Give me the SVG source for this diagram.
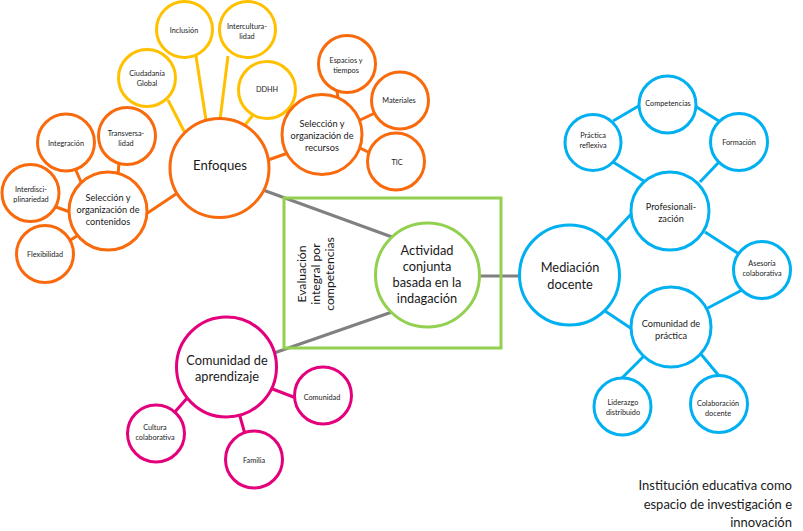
<svg xmlns="http://www.w3.org/2000/svg" width="803" height="531" viewBox="0 0 803 531">
<style>
.c{fill:#fff;stroke-width:3}
.y{stroke:#FFC000}.o{stroke:#F96A0C}.p{stroke:#E4007C}.b{stroke:#00B0F0}.g{stroke:#92D050}
.l{stroke-width:3;fill:none}
.gr{stroke:#808080}
text{font-family:Lato,"Liberation Sans",sans-serif;fill:#1a1a1a;text-anchor:middle}
.s{font-size:7.3px}
.m{font-size:9.2px}
.L{font-size:12.8px}
.v{font-size:12.2px}
.t{font-size:13px;text-anchor:end}
</style>
<rect width="803" height="531" fill="#fff"/>
<g id="connectors">
<g class="l y">
<line x1="168" y1="100" x2="185" y2="133"/>
<line x1="196" y1="56" x2="206" y2="120"/>
<line x1="228" y1="56" x2="220" y2="120"/>
<line x1="253" y1="115" x2="245" y2="125"/>
</g>
<g class="l o">
<line x1="179" y1="192" x2="146" y2="214"/>
<line x1="75" y1="168" x2="81" y2="182"/>
<line x1="119" y1="163" x2="118" y2="175"/>
<line x1="56" y1="207" x2="70" y2="212"/>
<line x1="69" y1="241" x2="80" y2="234"/>
<line x1="268" y1="160" x2="288" y2="153"/>
<line x1="337" y1="91" x2="338" y2="98"/>
<line x1="358" y1="121" x2="375" y2="113"/>
<line x1="358" y1="147" x2="370" y2="153"/>
</g>
<g class="l b">
<line x1="606" y1="241" x2="634" y2="211"/>
<line x1="613" y1="162" x2="647" y2="183"/>
<line x1="613" y1="121" x2="642" y2="104"/>
<line x1="695" y1="106" x2="722" y2="123"/>
<line x1="720" y1="161" x2="700" y2="182"/>
<line x1="705" y1="232" x2="739" y2="254"/>
<line x1="744" y1="289" x2="706" y2="309"/>
<line x1="605" y1="311" x2="632" y2="329"/>
<line x1="645" y1="355" x2="620" y2="380"/>
<line x1="700" y1="353" x2="720" y2="377"/>
</g>
<g class="l p">
<line x1="270" y1="388" x2="296" y2="398"/>
<line x1="189" y1="396" x2="173" y2="414"/>
<line x1="239" y1="413" x2="245" y2="434"/>
</g>
<g class="l gr">
<line x1="263" y1="190" x2="392" y2="237"/>
<line x1="274" y1="353" x2="392" y2="312"/>
<line x1="479" y1="276" x2="521" y2="276"/>
</g>
</g>
<rect id="frame" x="284" y="198" width="217" height="150" class="l g"/>

<g id="inclusion"><circle cx="184.5" cy="29.5" r="28" class="c y"/><text class="s" x="184" y="33">Inclusión</text></g>
<g id="interculturalidad"><circle cx="247.5" cy="29.5" r="28" class="c y"/><text class="s" x="247" y="29">Intercultura-<tspan x="247" dy="10">lidad</tspan></text></g>
<g id="ciudadania"><circle cx="147" cy="78" r="28.5" class="c y"/><text class="s" x="147" y="76">Ciudadanía<tspan x="147" dy="10">Global</tspan></text></g>
<g id="ddhh"><circle cx="267" cy="90" r="28.5" class="c y"/><text class="s" x="267" y="92">DDHH</text></g>

<g id="enfoques"><circle cx="219.5" cy="168" r="49.5" class="c o"/><text class="L" x="220" y="170" style="font-size:13.2px">Enfoques</text></g>
<g id="integracion"><circle cx="66" cy="142.5" r="28.5" class="c o"/><text class="s" x="66" y="146">Integración</text></g>
<g id="transversalidad"><circle cx="127" cy="136" r="28.5" class="c o"/><text class="s" x="126" y="136">Transversa-<tspan x="126" dy="10">lidad</tspan></text></g>
<g id="interdisciplinariedad"><circle cx="30.5" cy="193" r="28.5" class="c o"/><text class="s" x="31" y="192">Interdisci-<tspan x="31" dy="10">plinariedad</tspan></text></g>
<g id="flexibilidad"><circle cx="45" cy="254" r="28.5" class="c o"/><text class="s" x="45" y="257">Flexibilidad</text></g>
<g id="sel-contenidos"><circle cx="108" cy="211" r="39" class="c o"/><text class="m" x="108" y="201">Selección y<tspan x="108" dy="12">organización de</tspan><tspan x="108" dy="12">contenidos</tspan></text></g>
<g id="espacios"><circle cx="347" cy="64" r="28.5" class="c o"/><text class="s" x="346" y="63">Espacios y<tspan x="346" dy="9.5">tiempos</tspan></text></g>
<g id="materiales"><circle cx="400" cy="100.5" r="28.5" class="c o"/><text class="s" x="399" y="103">Materiales</text></g>
<g id="tic"><circle cx="396" cy="161.5" r="28.5" class="c o"/><text class="s" x="397" y="165">TIC</text></g>
<g id="sel-recursos"><circle cx="322" cy="134.5" r="40" class="c o"/><text class="m" x="322" y="127">Selección y<tspan x="322" dy="12">organización de</tspan><tspan x="322" dy="12">recursos</tspan></text></g>

<g id="actividad"><circle cx="427.5" cy="275" r="52" class="c g"/><text class="L" x="427" y="255">Actividad<tspan x="427" dy="16">conjunta</tspan><tspan x="427" dy="16">basada en la</tspan><tspan x="427" dy="16">indagación</tspan></text></g>
<g id="evaluacion"><text class="v" transform="translate(316,274) rotate(-90)" x="0" y="-10">Evaluación<tspan x="0" dy="14">integral por</tspan><tspan x="0" dy="14">competencias</tspan></text></g>

<g id="mediacion"><circle cx="569.5" cy="275" r="50" class="c b"/><text class="L" x="570" y="272">Mediación<tspan x="570" dy="17">docente</tspan></text></g>
<g id="profesionalizacion"><circle cx="670" cy="211" r="39" class="c b"/><text class="m" x="671" y="210">Profesionali-<tspan x="671" dy="11.5">zación</tspan></text></g>
<g id="competencias"><circle cx="667.5" cy="104.5" r="28.5" class="c b"/><text class="s" x="668" y="106">Competencias</text></g>
<g id="practica-reflexiva"><circle cx="593" cy="142.5" r="28" class="c b"/><text class="s" x="593" y="138">Práctica<tspan x="593" dy="10">reflexiva</tspan></text></g>
<g id="formacion"><circle cx="739" cy="142" r="28.5" class="c b"/><text class="s" x="739" y="145">Formación</text></g>
<g id="asesoria"><circle cx="762" cy="270" r="28.5" class="c b"/><text class="s" x="762" y="266">Asesoría<tspan x="762" dy="9.5">colaborativa</tspan></text></g>
<g id="comunidad-practica"><circle cx="671" cy="327" r="40" class="c b"/><text class="m" x="671" y="327">Comunidad de<tspan x="671" dy="12">práctica</tspan></text></g>
<g id="liderazgo"><circle cx="622.5" cy="406.5" r="28.5" class="c b"/><text class="s" x="623" y="405">Liderazgo<tspan x="623" dy="9.5">distribuido</tspan></text></g>
<g id="colaboracion"><circle cx="719" cy="404" r="28.5" class="c b"/><text class="s" x="718" y="406">Colaboración<tspan x="718" dy="10">docente</tspan></text></g>

<g id="comunidad-aprendizaje"><circle cx="226.5" cy="367" r="50" class="c p"/><text class="L" x="227" y="365">Comunidad de<tspan x="227" dy="16">aprendizaje</tspan></text></g>
<g id="comunidad"><circle cx="323" cy="395.5" r="28.5" class="c p"/><text class="s" x="322" y="400">Comunidad</text></g>
<g id="cultura"><circle cx="156" cy="433.5" r="28.5" class="c p"/><text class="s" x="155" y="430">Cultura<tspan x="155" dy="10">colaborativa</tspan></text></g>
<g id="familia"><circle cx="254" cy="459.5" r="28.5" class="c p"/><text class="s" x="254" y="463">Familia</text></g>

<g id="caption"><text class="t" x="792" y="490">Institución educativa como<tspan x="792" dy="19">espacio de investigación e</tspan><tspan x="792" dy="18">innovación</tspan></text></g>
</svg>
